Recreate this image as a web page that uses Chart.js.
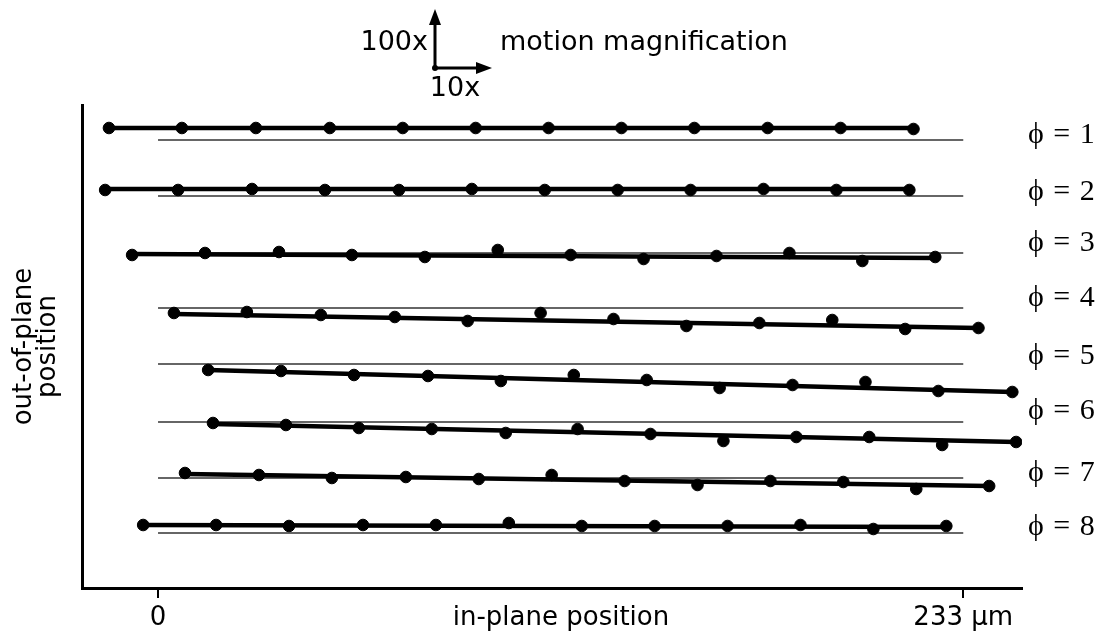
<!DOCTYPE html>
<html>
<head>
<meta charset="utf-8">
<script src="https://cdn.jsdelivr.net/npm/chart.js@4.4.1/dist/chart.umd.min.js"></script>
<style>
  html, body { margin: 0; padding: 0; background: #fff; }
  #wrap { width: 1104px; height: 635px; }
</style>
</head>
<body>
<div id="wrap"><canvas id="grafica" width="1104" height="635"></canvas></div>
<script>
// phase labels
const phases = ['\u03d5 = 1', '\u03d5 = 2', '\u03d5 = 3', '\u03d5 = 4', '\u03d5 = 5', '\u03d5 = 6', '\u03d5 = 7', '\u03d5 = 8']

// in-plane position of each sample (um, motion magnified 10x)
const xPos = [
    [-14.2, 6.9, 28.3, 49.7, 70.8, 91.9, 113.0, 134.1, 155.2, 176.4, 197.5, 218.6],
    [-15.3, 5.8, 27.2, 48.3, 69.7, 90.8, 111.9, 133.0, 154.1, 175.2, 196.3, 217.4],
    [-7.5, 13.6, 35.0, 56.1, 77.2, 98.3, 119.4, 140.5, 161.6, 182.7, 203.8, 224.9],
    [4.6, 25.7, 47.1, 68.5, 89.6, 110.7, 131.8, 152.9, 174.0, 195.1, 216.2, 237.4],
    [14.5, 35.6, 56.7, 78.1, 99.2, 120.3, 141.4, 162.5, 183.6, 204.7, 225.8, 247.2],
    [15.9, 37.0, 58.1, 79.2, 100.6, 121.4, 142.5, 163.6, 184.7, 205.8, 226.9, 248.3],
    [7.8, 29.2, 50.3, 71.7, 92.8, 113.9, 135.0, 156.1, 177.2, 198.3, 219.4, 240.5],
    [-4.3, 16.8, 37.9, 59.3, 80.4, 101.5, 122.6, 143.7, 164.8, 185.9, 207.0, 228.1]
]

// out-of-plane position of each sample (a.u., motion magnified 100x)
const yPos = [
    [457, 457, 457, 457, 457, 457, 457, 457, 457, 457, 457, 456],
    [395, 395, 396, 395, 395, 396, 395, 395, 395, 396, 395, 395],
    [330, 332, 333, 330, 328, 335, 330, 326, 329, 332, 324, 328],
    [272, 273, 270, 268, 264, 272, 266, 259, 262, 265, 256, 257],
    [215, 214, 210, 209, 204, 210, 205, 197, 200, 203, 194, 193],
    [162, 160, 157, 156, 152, 156, 151, 144, 148, 148, 140, 143],
    [112, 110, 107, 108, 106, 110, 104, 100, 104, 103, 96, 99],
    [60, 60, 59, 60, 60, 62, 59, 59, 59, 60, 56, 59]
]

// fitted line, value at first and last sample
const fitStart = [457, 396, 331, 271, 215, 161, 111, 60]
const fitEnd = [457, 396, 327, 257, 193, 143, 99, 58]

// rest position of each phase
const restY = [445, 389, 332, 277, 221, 163, 107, 52]
const restX = [0, 233]

// where the phase labels sit
const labelY = [450, 393, 342, 287, 229, 174, 112, 58]

const xTicks = [0, 116.6, 233]
const xTickLabels = ['0', 'in-plane position', '233 \u03bcm']

const sans = '"DejaVu Sans", Arial, sans-serif'

const datasets = []
phases.forEach((p, i) => {
    datasets.push({
        label: p + ' rest',
        data: restX.map(x => ({ x: x, y: restY[i] })),
        showLine: true,
        borderColor: '#333',
        borderWidth: 1.4,
        pointRadius: 0,
        order: 3
    })
    const n = xPos[i].length
    datasets.push({
        label: p + ' fit',
        data: [{ x: xPos[i][0], y: fitStart[i] }, { x: xPos[i][n - 1], y: fitEnd[i] }],
        showLine: true,
        borderColor: '#000',
        borderWidth: 4.5,
        pointRadius: 0,
        order: 2
    })
    datasets.push({
        label: p,
        data: xPos[i].map((x, j) => ({ x: x, y: yPos[i][j] })),
        showLine: false,
        backgroundColor: '#000',
        borderColor: '#000',
        pointRadius: 5.8,
        order: 1
    })
})

// arrows, magnification note and phase labels
const notes = {
    id: 'notes',
    afterDraw(chart) {
        const ctx = chart.ctx
        const y = chart.scales.y
        ctx.save()
        ctx.fillStyle = '#000'
        ctx.strokeStyle = '#000'
        ctx.font = '27px ' + sans
        ctx.textBaseline = 'alphabetic'
        ctx.textAlign = 'right'
        ctx.fillText('100x', 428, 50)
        ctx.textAlign = 'left'
        ctx.fillText('motion magnification', 500, 50)
        ctx.textAlign = 'center'
        ctx.fillText('10x', 455, 96)

        ctx.lineWidth = 3
        ctx.beginPath()
        ctx.moveTo(435, 68); ctx.lineTo(435, 20)
        ctx.moveTo(435, 68); ctx.lineTo(480, 68)
        ctx.stroke()
        ctx.beginPath()
        ctx.moveTo(435, 9); ctx.lineTo(429, 25); ctx.lineTo(441, 25); ctx.closePath()
        ctx.moveTo(492, 68); ctx.lineTo(476, 62); ctx.lineTo(476, 74); ctx.closePath()
        ctx.fill()
        ctx.beginPath()
        ctx.arc(435, 68, 3, 0, Math.PI * 2)
        ctx.fill()

        ctx.font = '30px "Liberation Serif", "Times New Roman", serif'
        ctx.letterSpacing = '1px'
        ctx.textAlign = 'left'
        ctx.textBaseline = 'middle'
        phases.forEach((p, i) => {
            ctx.fillText(p, 1028, y.getPixelForValue(labelY[i]))
        })
        ctx.restore()
    }
}

const graph = document.querySelector('#grafica')

const config = {
    type: 'scatter',
    data: { datasets: datasets },
    options: {
        responsive: false,
        animation: false,
        layout: { padding: { top: 105, right: 82, bottom: 0, left: 0 } },
        plugins: {
            legend: { display: false },
            tooltip: { enabled: false }
        },
        elements: { line: { tension: 0 } },
        scales: {
            x: {
                type: 'linear',
                min: -22,
                max: 250,
                afterBuildTicks: scale => { scale.ticks = xTicks.map(v => ({ value: v })) },
                afterFit: scale => { scale.height = 47 },
                ticks: {
                    autoSkip: false,
                    maxRotation: 0,
                    padding: 5,
                    color: '#000',
                    font: { family: sans, size: 26 },
                    callback: (v, i) => xTickLabels[i]
                },
                grid: {
                    drawOnChartArea: false,
                    tickLength: 10,
                    lineWidth: 2,
                    tickColor: c => c.index === 1 ? 'rgba(0,0,0,0)' : '#000'
                },
                border: { color: '#000', width: 3 }
            },
            y: {
                type: 'linear',
                min: -3,
                max: 480,
                afterFit: scale => { scale.width = 82 },
                ticks: { display: false },
                grid: { display: false },
                border: { color: '#000', width: 3 },
                title: {
                    display: true,
                    text: ['out-of-plane', 'position'],
                    color: '#000',
                    padding: { top: 13, bottom: 0 },
                    font: { family: sans, size: 26, lineHeight: 0.9 }
                }
            }
        }
    },
    plugins: [notes]
}

new Chart(graph, config)
</script>
</body>
</html>
